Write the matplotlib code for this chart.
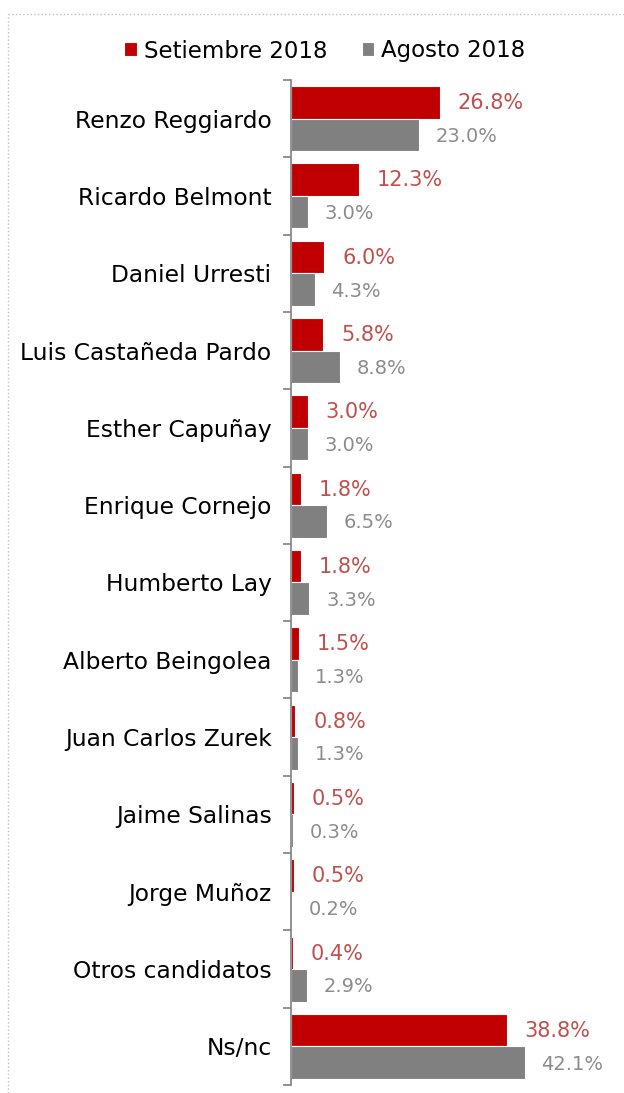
import matplotlib.pyplot as plt
import numpy as np

candidatos = ['Renzo Reggiardo', 'Ricardo Belmont', 'Daniel Urresti',
              'Luis Castañeda Pardo', 'Esther Capuñay', 'Enrique Cornejo',
              'Humberto Lay', 'Alberto Beingolea', 'Juan Carlos Zurek',
              'Jaime Salinas', 'Jorge Muñoz', 'Otros candidatos', 'Ns/nc']
setiembre = [26.8, 12.3, 6.0, 5.8, 3.0, 1.8, 1.8, 1.5, 0.8, 0.5, 0.5, 0.4, 38.8]
agosto = [23.0, 3.0, 4.3, 8.8, 3.0, 6.5, 3.3, 1.3, 1.3, 0.3, 0.2, 2.9, 42.1]

ROJO = '#C00000'
GRIS = '#808080'

plt.rcParams['font.family'] = ['DejaVu Sans']

fig = plt.figure(figsize=(6.24, 10.93), dpi=100)
ax = fig.add_axes([291/624, 1 - 1085/1093, (616-291)/624, (1085-80)/1093])

n = len(candidatos)
pos = np.arange(n)
h = 0.42
ax.barh(pos - h/2, setiembre, height=h, color=ROJO, edgecolor='white',
        linewidth=0.8, label='Setiembre 2018')
ax.barh(pos + h/2, agosto, height=h, color=GRIS, edgecolor='white',
        linewidth=0.8, label='Agosto 2018')

# etiquetas de valor
for i in range(n):
    ax.text(setiembre[i] + 3.2, pos[i] - h/2 + 0.01, f'{setiembre[i]:.1f}%',
            color='#C0504D', fontsize=15, va='center', ha='left')
    ax.text(agosto[i] + 3.0, pos[i] + h/2 + 0.02, f'{agosto[i]:.1f}%',
            color='#8C8C8C', fontsize=14, va='center', ha='left')

ax.set_xlim(0, 58.5)
ax.set_ylim(n - 0.5, -0.5)
ax.set_yticks(pos)
ax.set_yticklabels(candidatos, fontsize=16.8)
ax.set_yticks(np.arange(n + 1) - 0.5, minor=True)
ax.tick_params(axis='y', which='major', length=0, pad=14)
ax.tick_params(axis='y', which='minor', length=6, color='#7F7F7F', width=1.2)
ax.set_xticks([])
for s in ['top', 'right', 'bottom']:
    ax.spines[s].set_visible(False)
ax.spines['left'].set_color('#7F7F7F')
ax.spines['left'].set_linewidth(1.2)

fig.legend(loc='center', bbox_to_anchor=(325/624, 1 - 51/1093), ncol=2,
           frameon=False, fontsize=16.5, handlelength=0.55, handleheight=0.55,
           handletextpad=0.3, columnspacing=1.5)

# marco punteado
fig.add_artist(plt.Line2D([8/624, 8/624], [0, 1 - 14/1093],
               transform=fig.transFigure, color='#BFBFBF', lw=1, ls=':'))
fig.add_artist(plt.Line2D([8/624, 1], [1 - 14/1093, 1 - 14/1093],
               transform=fig.transFigure, color='#BFBFBF', lw=1, ls=':'))

fig.savefig('out.png', dpi=100)
